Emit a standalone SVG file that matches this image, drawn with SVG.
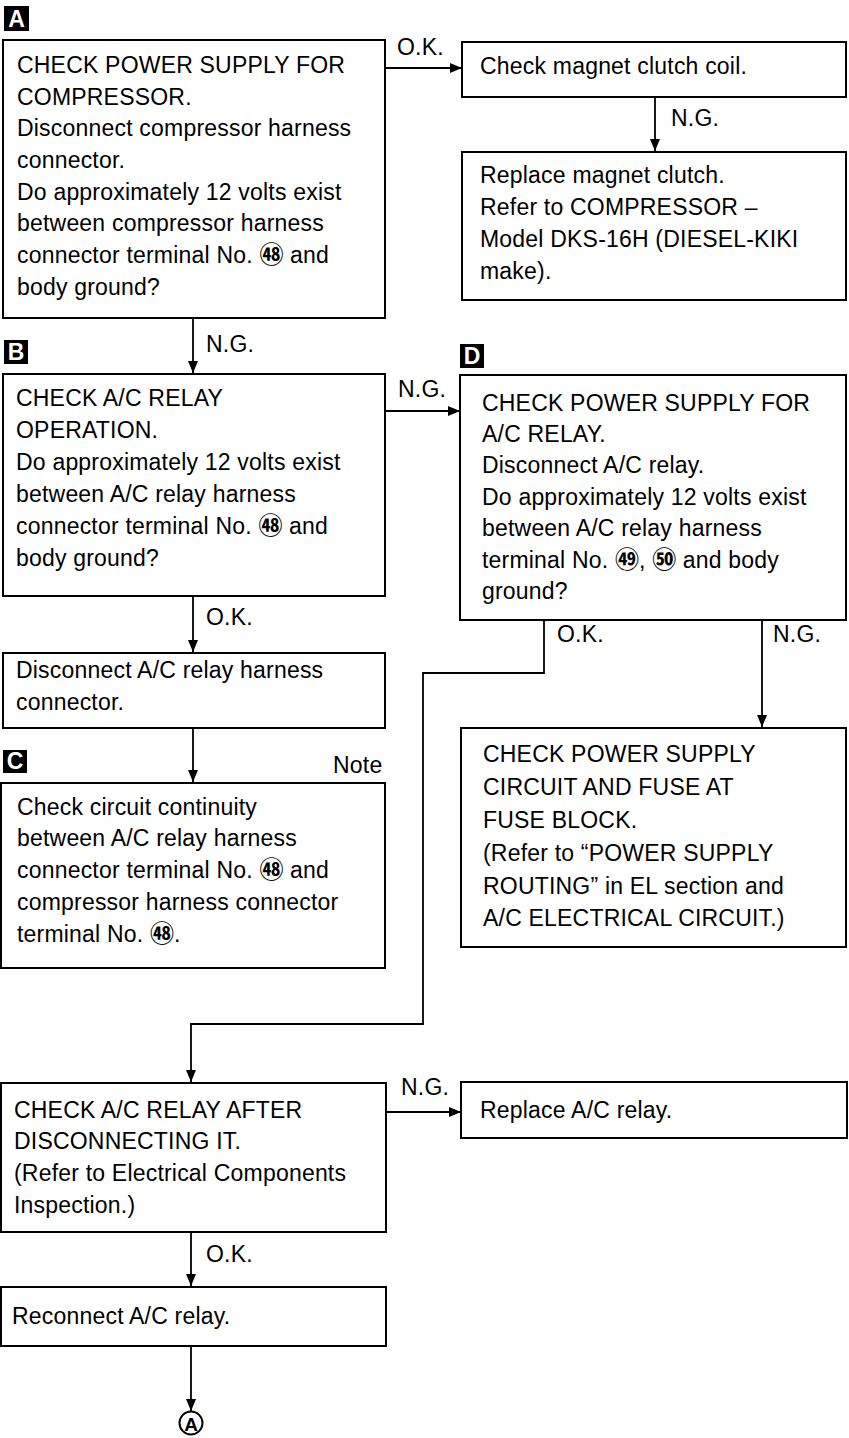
<svg xmlns="http://www.w3.org/2000/svg" width="849" height="1438" viewBox="0 0 849 1438">
<style>
  .box { fill: #fff; stroke: #000; stroke-width: 2; }
  .t { font-family: "Liberation Sans", Arial, sans-serif; font-size: 23px; letter-spacing: 0.2px; fill: #000; }
  .cn { font-family: "Noto Sans CJK JP", sans-serif; font-size: 24px; font-weight: bold; letter-spacing: 0; }
  .lbl { fill: #000; }
  .lt { font-family: "Liberation Sans", Arial, sans-serif; font-size: 23px; font-weight: bold; fill: #fff; }
  .con { fill: none; stroke: #000; stroke-width: 1.8; }
</style>
<defs>
  <marker id="ah" viewBox="0 0 12 10" refX="12" refY="5" markerWidth="12" markerHeight="10" markerUnits="userSpaceOnUse" orient="auto">
    <path d="M0,0 L12,5 L0,10 Z" fill="#000"/>
  </marker>
</defs>
<rect width="849" height="1438" fill="#fff"/>

<!-- section labels -->
<g id="label-A"><rect class="lbl" x="4" y="6" width="25" height="25"/><text class="lt" x="16.5" y="27" text-anchor="middle">A</text></g>
<g id="label-B"><rect class="lbl" x="4" y="340" width="24" height="24"/><text class="lt" x="16" y="360" text-anchor="middle">B</text></g>
<g id="label-C"><rect class="lbl" x="3" y="750" width="24" height="23"/><text class="lt" x="15" y="769" text-anchor="middle">C</text></g>
<g id="label-D"><rect class="lbl" x="460" y="344" width="24" height="24"/><text class="lt" x="472" y="364" text-anchor="middle">D</text></g>

<!-- connectors -->
<g id="connectors">
  <line class="con" x1="385" y1="68" x2="462" y2="68" marker-end="url(#ah)"/>
  <text class="t" x="397" y="55">O.K.</text>
  <line class="con" x1="655" y1="97" x2="655" y2="151" marker-end="url(#ah)"/>
  <text class="t" x="671" y="126">N.G.</text>
  <line class="con" x1="193" y1="318" x2="193" y2="373" marker-end="url(#ah)"/>
  <text class="t" x="206" y="352">N.G.</text>
  <line class="con" x1="385" y1="411" x2="460" y2="411" marker-end="url(#ah)"/>
  <text class="t" x="398" y="397">N.G.</text>
  <line class="con" x1="193" y1="596" x2="193" y2="652" marker-end="url(#ah)"/>
  <text class="t" x="206" y="625">O.K.</text>
  <line class="con" x1="193" y1="728" x2="193" y2="782" marker-end="url(#ah)"/>
  <line class="con" x1="762" y1="620" x2="762" y2="727" marker-end="url(#ah)"/>
  <text class="t" x="773" y="642">N.G.</text>
  <path class="con" d="M544,620 V673 H423 V1024 H191 V1082" marker-end="url(#ah)"/>
  <text class="t" x="557" y="642">O.K.</text>
  <line class="con" x1="386" y1="1112" x2="461" y2="1112" marker-end="url(#ah)"/>
  <text class="t" x="401" y="1095">N.G.</text>
  <line class="con" x1="191" y1="1232" x2="191" y2="1286" marker-end="url(#ah)"/>
  <text class="t" x="206" y="1262">O.K.</text>
  <line class="con" x1="191" y1="1346" x2="191" y2="1411" marker-end="url(#ah)"/>
  <text class="t" x="333" y="773">Note</text>
</g>

<g id="node-A">
  <rect class="box" x="3" y="40" width="382" height="278"/>
  <text class="t" x="17" y="73">CHECK POWER SUPPLY FOR</text>
  <text class="t" x="17" y="105">COMPRESSOR.</text>
  <text class="t" x="17" y="136">Disconnect compressor harness</text>
  <text class="t" x="17" y="168">connector.</text>
  <text class="t" x="17" y="200">Do approximately 12 volts exist</text>
  <text class="t" x="17" y="231">between compressor harness</text>
  <text class="t" x="17" y="263">connector terminal No. <tspan class="cn">㊽</tspan> and</text>
  <text class="t" x="17" y="295">body ground?</text>
</g>

<g id="node-magnet-coil">
  <rect class="box" x="462" y="42" width="384" height="55"/>
  <text class="t" x="480" y="74">Check magnet clutch coil.</text>
</g>

<g id="node-replace-clutch">
  <rect class="box" x="462" y="152" width="384" height="148"/>
  <text class="t" x="480" y="183">Replace magnet clutch.</text>
  <text class="t" x="480" y="215">Refer to COMPRESSOR –</text>
  <text class="t" x="480" y="247">Model DKS-16H (DIESEL-KIKI</text>
  <text class="t" x="480" y="279">make).</text>
</g>

<g id="node-B">
  <rect class="box" x="3" y="374" width="382" height="222"/>
  <text class="t" x="16" y="406">CHECK A/C RELAY</text>
  <text class="t" x="16" y="438">OPERATION.</text>
  <text class="t" x="16" y="470">Do approximately 12 volts exist</text>
  <text class="t" x="16" y="502">between A/C relay harness</text>
  <text class="t" x="16" y="534">connector terminal No. <tspan class="cn">㊽</tspan> and</text>
  <text class="t" x="16" y="566">body ground?</text>
</g>

<g id="node-D">
  <rect class="box" x="460" y="375" width="386" height="245"/>
  <text class="t" x="482" y="411">CHECK POWER SUPPLY FOR</text>
  <text class="t" x="482" y="442">A/C RELAY.</text>
  <text class="t" x="482" y="473">Disconnect A/C relay.</text>
  <text class="t" x="482" y="505">Do approximately 12 volts exist</text>
  <text class="t" x="482" y="536">between A/C relay harness</text>
  <text class="t" x="482" y="568">terminal No. <tspan class="cn">㊾</tspan>, <tspan class="cn">㊿</tspan> and body</text>
  <text class="t" x="482" y="599">ground?</text>
</g>

<g id="node-disconnect">
  <rect class="box" x="3" y="653" width="382" height="75"/>
  <text class="t" x="16" y="678">Disconnect A/C relay harness</text>
  <text class="t" x="16" y="710">connector.</text>
</g>

<g id="node-C">
  <rect class="box" x="1" y="783" width="384" height="185"/>
  <text class="t" x="17" y="815">Check circuit continuity</text>
  <text class="t" x="17" y="846">between A/C relay harness</text>
  <text class="t" x="17" y="878">connector terminal No. <tspan class="cn">㊽</tspan> and</text>
  <text class="t" x="17" y="910">compressor harness connector</text>
  <text class="t" x="17" y="942">terminal No. <tspan class="cn">㊽</tspan>.</text>
</g>

<g id="node-power-circuit">
  <rect class="box" x="461" y="728" width="385" height="219"/>
  <text class="t" x="483" y="762">CHECK POWER SUPPLY</text>
  <text class="t" x="483" y="795">CIRCUIT AND FUSE AT</text>
  <text class="t" x="483" y="828">FUSE BLOCK.</text>
  <text class="t" x="483" y="861">(Refer to “POWER SUPPLY</text>
  <text class="t" x="483" y="894">ROUTING” in EL section and</text>
  <text class="t" x="483" y="926">A/C ELECTRICAL CIRCUIT.)</text>
</g>

<g id="node-E">
  <rect class="box" x="1" y="1083" width="385" height="149"/>
  <text class="t" x="14" y="1118">CHECK A/C RELAY AFTER</text>
  <text class="t" x="14" y="1149">DISCONNECTING IT.</text>
  <text class="t" x="14" y="1181">(Refer to Electrical Components</text>
  <text class="t" x="14" y="1213">Inspection.)</text>
</g>

<g id="node-replace-relay">
  <rect class="box" x="461" y="1082" width="386" height="56"/>
  <text class="t" x="480" y="1118">Replace A/C relay.</text>
</g>

<g id="node-reconnect">
  <rect class="box" x="1" y="1287" width="385" height="59"/>
  <text class="t" x="12" y="1324">Reconnect A/C relay.</text>
</g>

<g id="node-A-terminal">
  <circle cx="191" cy="1423" r="11.5" fill="#fff" stroke="#000" stroke-width="2"/>
  <text x="191" y="1430.5" text-anchor="middle" font-family="Liberation Sans, Arial, sans-serif" font-size="19" font-weight="bold">A</text>
</g>
</svg>
